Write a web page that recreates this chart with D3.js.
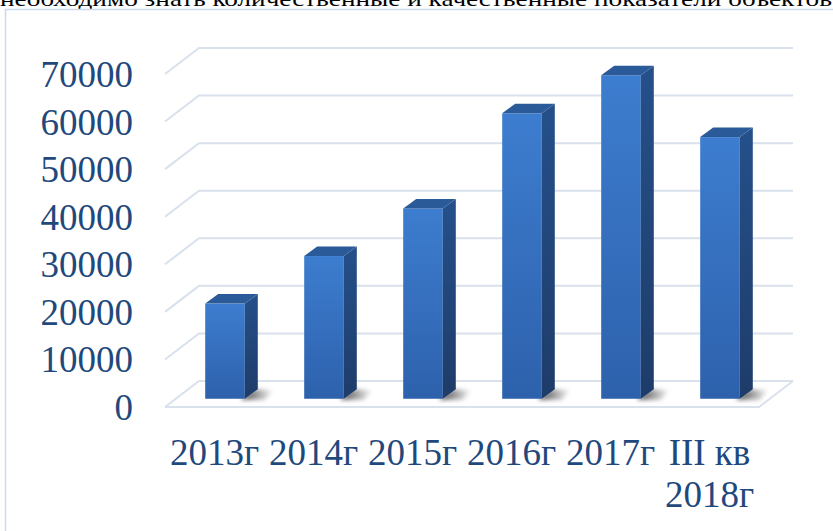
<!DOCTYPE html>
<meta charset="utf-8">
<script src="https://d3js.org/d3.v7.min.js"></script>
<style>
body { margin: 0; background: #fff; }
.grid { fill: none; stroke: #d9e1ec; stroke-width: 2; }
.lbl { font-family: "Liberation Serif", "Times New Roman", serif; fill: #1f497d; font-size: 37px; }
</style>
<body>
<div id="canvas"></div>
<script>
var categories = ["2013г", "2014г", "2015г", "2016г", "2017г", "III кв\n2018г"];
var values = [20000, 30000, 40000, 60000, 68000, 55000];
var yTicks = [0, 10000, 20000, 30000, 40000, 50000, 60000, 70000];
var caption = "необходимо знать количественные и качественные показатели объектов";

var width = 833, height = 531;
var svg = d3.select("#canvas").append("svg")
    .attr("width", width).attr("height", height);

// подпись сверху (обрезана краем, как на картинке)
svg.append("text")
    .attr("x", 0).attr("y", 6)
    .attr("textLength", 832).attr("lengthAdjust", "spacingAndGlyphs")
    .style("font-family", "'Liberation Serif', serif")
    .style("font-size", "21px")
    .text(caption);

svg.append("rect")
    .attr("x", 5.5).attr("y", 9.5)
    .attr("width", 900).attr("height", 600)
    .attr("fill", "#fff").attr("stroke", "#c9d9ee").attr("stroke-width", 1.5);

var defs = svg.append("defs");
var gFront = defs.append("linearGradient").attr("id", "front")
    .attr("x1", 0).attr("y1", 0).attr("x2", 0).attr("y2", 1);
gFront.append("stop").attr("offset", "0%").attr("stop-color", "#3d7dcf");
gFront.append("stop").attr("offset", "100%").attr("stop-color", "#2d61ac");
var gSide = defs.append("linearGradient").attr("id", "side")
    .attr("x1", 0).attr("y1", 0).attr("x2", 0).attr("y2", 1);
gSide.append("stop").attr("offset", "0%").attr("stop-color", "#25508a");
gSide.append("stop").attr("offset", "100%").attr("stop-color", "#1e3c69");
var gShadow = defs.append("linearGradient").attr("id", "shadow")
    .attr("x1", 0).attr("y1", 0).attr("x2", 1).attr("y2", 0);
gShadow.append("stop").attr("offset", "0%").attr("stop-color", "#000").attr("stop-opacity", 0.75);
gShadow.append("stop").attr("offset", "100%").attr("stop-color", "#000").attr("stop-opacity", 0);
defs.append("filter").attr("id", "blur")
    .attr("x", "-50%").attr("y", "-50%").attr("width", "200%").attr("height", "200%")
    .append("feGaussianBlur").attr("stdDeviation", 2);

// геометрия псевдо-3D
var x0 = 165, x1 = 759, floorY = 407;
var dx = 34, dy = -26;          // глубина пола
var plotH = 333;

var x = d3.scaleBand()
    .domain(categories)
    .range([x0, x1])
    .paddingInner(0.6)
    .paddingOuter(0.3);

var y = d3.scaleLinear()
    .domain([0, 70000])
    .range([0, plotH]);

var g = svg.append("g");

// сетка на задней стенке + диагонали слева
yTicks.forEach(function(v) {
    var yy = floorY - y(v);
    g.append("path")
        .attr("class", "grid")
        .attr("d", "M" + x0 + "," + yy + "L" + (x0 + dx) + "," + (yy + dy) + "L" + (x1 + dx) + "," + (yy + dy));
});
// передний край пола и правый край
g.append("path")
    .attr("class", "grid")
    .attr("d", "M" + x0 + "," + floorY + "L" + x1 + "," + floorY + "L" + (x1 + dx) + "," + (floorY + dy));

// подписи оси Y
g.selectAll(".ylbl")
    .data(yTicks)
    .enter().append("text")
    .attr("class", "lbl")
    .attr("text-anchor", "end")
    .attr("x", 133)
    .attr("y", function(d) { return floorY - y(d) + 13; })
    .text(function(d) { return d; });

// столбцы
var bw = x.bandwidth();
var bdx = 13, bdy = -9.5;           // глубина столбца
var offX = (dx - bdx) / 2, offY = (dy - bdy) / 2;

var bars = g.selectAll(".bar")
    .data(values)
    .enter().append("g")
    .attr("class", "bar");

// тень на полу
bars.append("path")
    .attr("filter", "url(#blur)")
    .attr("fill", "url(#shadow)")
    .attr("d", function(d, i) {
        var l = x(categories[i]) + offX + bw, b = floorY + offY;
        return "M" + (l - 4) + "," + (b + 1) + "L" + (l + bdx - 4) + "," + (b + bdy) +
               "L" + (l + bdx + 16) + "," + (b + bdy + 1) + "L" + (l + 20) + "," + (b + 1) + "Z";
    });

bars.append("rect")
    .attr("x", function(d, i) { return x(categories[i]) + offX; })
    .attr("y", function(d) { return floorY + offY - y(d); })
    .attr("width", bw)
    .attr("height", function(d) { return y(d); })
    .attr("fill", "url(#front)");

bars.append("path")
    .attr("fill", "url(#side)")
    .attr("d", function(d, i) {
        var r = x(categories[i]) + offX + bw, b = floorY + offY, t = b - y(d);
        return "M" + r + "," + b + "L" + r + "," + t + "L" + (r + bdx) + "," + (t + bdy) +
               "L" + (r + bdx) + "," + (b + bdy) + "Z";
    });

bars.append("path")
    .attr("fill", "#2b5a99")
    .attr("d", function(d, i) {
        var l = x(categories[i]) + offX, t = floorY + offY - y(d);
        return "M" + l + "," + t + "L" + (l + bw) + "," + t + "L" + (l + bw + bdx) + "," + (t + bdy) +
               "L" + (l + bdx) + "," + (t + bdy) + "Z";
    });

// подписи оси X
var xl = g.selectAll(".xlbl")
    .data(categories)
    .enter().append("text")
    .attr("class", "lbl")
    .attr("text-anchor", "middle")
    .attr("x", function(d) { return x(d) + bw / 2; })
    .attr("y", 465);

xl.selectAll("tspan")
    .data(function(d) { return d.split("\n"); })
    .enter().append("tspan")
    .attr("x", function() { return d3.select(this.parentNode).attr("x"); })
    .attr("dy", function(d, i) { return i ? 42 : 0; })
    .text(function(d) { return d; });
</script>
</body>
